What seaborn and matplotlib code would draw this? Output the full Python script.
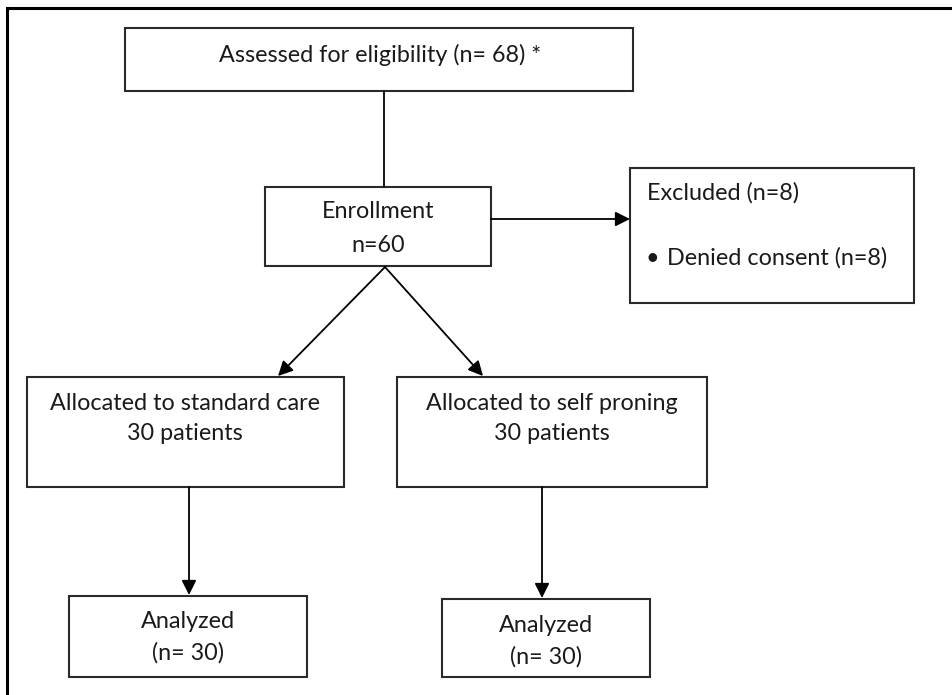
import matplotlib
matplotlib.use('AGG')
import matplotlib.pyplot as plt
from matplotlib.patches import Rectangle
import seaborn as sns

sns.set_theme(style='white')
plt.rcParams['font.family'] = ['Lato', 'DejaVu Sans']

# flow counts
n_assessed = 68
n_enrolled = 60
n_excluded = 8
n_denied = 8
n_allocated = [30, 30]
n_analyzed = [30, 30]
arms = ['standard care', 'self proning']

# box text
assessed_text = f"Assessed for eligibility (n= {n_assessed}) *"
enroll_lines = ["Enrollment", f"n={n_enrolled}"]
excluded_title = f"Excluded (n={n_excluded})"
excluded_item = f"Denied consent (n={n_denied})"
alloc_lines = [[f"Allocated to {a}", f"{n} patients"] for a, n in zip(arms, n_allocated)]
analyzed_lines = [["Analyzed", f"(n= {n})"] for n in n_analyzed]

# layout (pixel space, y down)
W, H = 952, 695
boxes = {
    'assessed': (125, 28, 633, 91),
    'enroll': (265, 187, 491, 266),
    'excluded': (630, 168, 914, 303),
    'alloc0': (27, 377, 344, 487),
    'alloc1': (397, 377, 707, 487),
    'anal0': (69, 596, 307, 677),
    'anal1': (442, 599, 650, 677),
}
FS = 16.8
EDGE = '#2a2a2a'
TXT = '#1a1a1a'

fig = plt.figure(figsize=(W / 100, H / 100), dpi=100)
ax = fig.add_axes([0, 0, 1, 1])
ax.set_xlim(0, W)
ax.set_ylim(H, 0)
ax.axis('off')

# outer frame (top and left only visible)
ax.plot([7, 7, W], [H, 8, 8], color='black', lw=2.2, solid_joinstyle='miter')

for x0, y0, x1, y1 in boxes.values():
    ax.add_patch(Rectangle((x0, y0), x1 - x0, y1 - y0, fill=False, ec=EDGE, lw=1.5))


def arrow(p0, p1, head=True):
    ax.annotate('', xy=p1, xytext=p0,
                arrowprops=dict(arrowstyle='-|>' if head else '-', color='black', lw=1.3,
                                mutation_scale=22, shrinkA=0, shrinkB=0))


arrow((384, 91), (384, 187), head=False)
arrow((491, 219), (630, 219))
arrow((385, 267), (278, 376))
arrow((385, 267), (483, 376))
arrow((189, 487), (189, 595))
arrow((542, 487), (542, 598))

# texts
kw = dict(fontsize=FS, color=TXT)
ax.text(380, 55, assessed_text, ha='center', va='center', **kw)
for y, t in zip([212, 245], enroll_lines):
    ax.text(378, y, t, ha='center', va='center', **kw)
ax.text(647, 193, excluded_title, ha='left', va='center', **kw)
ax.text(652, 258, '\u2022', ha='center', va='center', **kw)
ax.text(667, 258, excluded_item, ha='left', va='center', **kw)
for cx, lines in zip([185, 552], alloc_lines):
    for y, t in zip([403, 434], lines):
        ax.text(cx, y, t, ha='center', va='center', **kw)
for cx, ys, lines in zip([188, 546], [[622, 653], [625, 657]], analyzed_lines):
    for y, t in zip(ys, lines):
        ax.text(cx, y, t, ha='center', va='center', **kw)

fig.savefig('out.png', dpi=100, facecolor='white')
